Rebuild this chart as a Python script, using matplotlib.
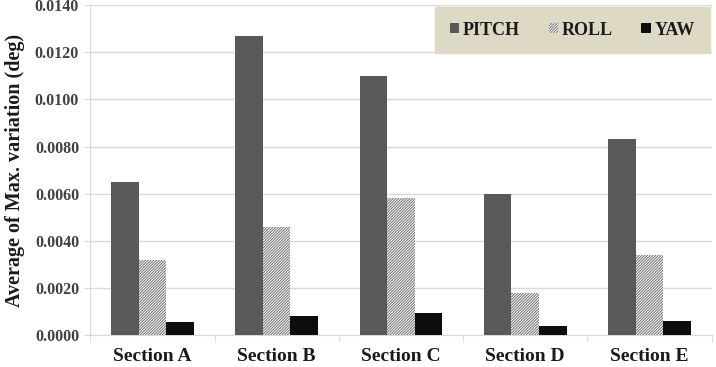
"""Average max variation per section, grouped bars for pitch / roll / yaw."""
import matplotlib

matplotlib.use("Agg")
import matplotlib.pyplot as plt
import numpy as np

sections = ["Section A", "Section B", "Section C", "Section D", "Section E"]
pitch = [0.0065, 0.0127, 0.0110, 0.0060, 0.0083]
roll = [0.0032, 0.0046, 0.0058, 0.0018, 0.0034]
yaw = [0.00057, 0.00081, 0.00095, 0.00040, 0.00060]
y_ticks = [0.0, 0.002, 0.004, 0.006, 0.008, 0.010, 0.012, 0.014]

plt.rcParams["font.family"] = ["Liberation Serif", "DejaVu Serif"]
plt.rcParams["font.weight"] = "bold"
plt.rcParams["hatch.linewidth"] = 0.7

fig = plt.figure(figsize=(7.16, 3.67), dpi=100)
ax = fig.add_axes([0.126, 0.087, 0.868, 0.899])

x = np.arange(len(sections))
width = 0.222
ax.bar(x - width, pitch, width, color="#595959", label="PITCH", zorder=3)
ax.bar(x, roll, width, facecolor="white", edgecolor="#6e6e6e", hatch="/" * 12,
       linewidth=0, label="ROLL", zorder=3)
ax.bar(x + width, yaw, width, color="#0d0d0d", label="YAW", zorder=3)

ax.set_xlim(-0.5, len(sections) - 0.5)
ax.set_ylim(0, 0.014)
ax.set_yticks(y_ticks)
ax.set_yticklabels([f"{v:.4f}" for v in y_ticks], fontsize=11.5, fontweight="bold", color="#404040")
ax.yaxis.grid(True, color="#d9d9d9", linewidth=1.0, zorder=0)
ax.set_axisbelow(True)

ax.set_xticks(x)
ax.set_xticklabels(sections, fontsize=14, fontweight="bold", color="#1a1a1a")
ax.set_xticks(np.arange(len(sections) + 1) - 0.5, minor=True)
ax.tick_params(axis="x", which="major", length=0, pad=9)
ax.tick_params(axis="x", which="minor", length=5, color="#d9d9d9")
ax.tick_params(axis="y", length=4, color="#d9d9d9", pad=4)

for side in ["top", "right"]:
    ax.spines[side].set_visible(False)
ax.spines["left"].set_color("#d9d9d9")
ax.spines["bottom"].set_color("#d9d9d9")

ax.set_ylabel("Average of Max. variation (deg)", fontsize=14.5, fontweight="bold",
              labelpad=7, color="#1a1a1a")

leg = ax.legend(
    loc="lower left",
    bbox_to_anchor=(0.555, 0.855, 0.442, 0.148),
    mode="expand",
    ncol=3,
    frameon=True,
    fancybox=False,
    facecolor="#ddd9c4",
    edgecolor="#ddd9c4",
    framealpha=1.0,
    prop={"weight": "bold", "size": 13},
    handlelength=0.5,
    handleheight=0.5,
    handletextpad=0.25,
    borderpad=0.8,
    borderaxespad=0,
)
for text in leg.get_texts():
    text.set_color("#1a1a1a")

fig.savefig("out.png", dpi=100)
